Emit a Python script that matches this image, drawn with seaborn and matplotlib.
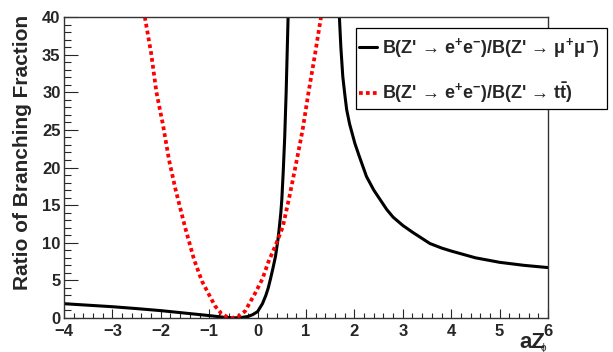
import pandas as pd
import matplotlib
matplotlib.use('Agg')
import matplotlib.pyplot as plt
import seaborn as sns
from matplotlib import font_manager
from matplotlib.patches import Rectangle
from matplotlib.ticker import MultipleLocator

# Values
# B(Z'->ee)/B(Z'->mumu): two branches around the pole
black_left_x = [-4.0, -3.5, -3.0, -2.5, -2.0, -1.5, -1.0, -0.7, -0.5, -0.35,
                -0.2, -0.1, 0.0, 0.1, 0.17, 0.22, 0.27, 0.32, 0.37, 0.42,
                0.45, 0.48, 0.50, 0.53, 0.56, 0.59, 0.61, 0.63]
black_left_y = [1.90, 1.70, 1.50, 1.25, 0.98, 0.65, 0.32, 0.10, 0.02, 0.05,
                0.20, 0.45, 0.85, 1.90, 3.00, 4.00, 5.30, 6.70, 8.20, 10.4,
                12.1, 14.0, 15.7, 19.5, 24.0, 30.0, 35.0, 40.0]
black_right_x = [1.69, 1.72, 1.76, 1.80, 1.84, 1.90, 2.01, 2.10, 2.25, 2.40,
                 2.67, 2.80, 3.0, 3.2, 3.56, 3.8, 4.0, 4.5, 5.0, 5.5, 6.0]
black_right_y = [40.0, 36.0, 32.1, 29.8, 27.7, 25.8, 23.2, 21.5, 18.8, 17.0,
                 14.4, 13.4, 12.3, 11.4, 9.9, 9.3, 8.9, 8.0, 7.4, 7.0, 6.7]

# B(Z'->ee)/B(Z'->tt)
red_x = [-2.33, -2.20, -2.09, -1.95, -1.83, -1.70, -1.50, -1.31, -1.15, -1.02,
         -0.88, -0.75, -0.62, -0.53, -0.40, -0.26, -0.05, 0.10, 0.22, 0.38,
         0.52, 0.66, 0.81, 0.93, 1.05, 1.18, 1.31]
red_y = [40.0, 35.2, 30.0, 25.5, 21.0, 17.2, 12.1, 7.7, 4.9, 3.3,
         1.6, 0.6, 0.1, 0.0, 0.2, 0.9, 3.3, 5.2, 7.4, 9.8,
         12.1, 16.2, 21.0, 25.0, 29.9, 34.8, 40.0]

label_mumu = "B(Z' \u2192 e$^{+}$e$^{-}$)/B(Z' \u2192 $\\mu^{+}\\mu^{-}$)"
label_tt = "B(Z' \u2192 e$^{+}$e$^{-}$)/B(Z' \u2192 t$\\bar{\\mathrm{t}}$)"

sns.set_style('white')

# pick a Helvetica-like family that really has a bold face installed
bold_family = 'DejaVu Sans'
for fam in ['Liberation Sans', 'Noto Sans', 'Roboto', 'Open Sans', 'Lato', 'Inter']:
    weights = [f.weight for f in font_manager.fontManager.ttflist if f.name == fam]
    if any((isinstance(w, int) and w >= 700) or w == 'bold' for w in weights):
        bold_family = fam
        break

plt.rcParams['font.family'] = [bold_family, 'DejaVu Sans']
plt.rcParams['font.weight'] = 'bold'
plt.rcParams['mathtext.fontset'] = 'custom'
for key in ['rm', 'bf', 'it', 'sf']:
    plt.rcParams['mathtext.' + key] = bold_family + ':bold'

fig = plt.figure(figsize=(6.13, 3.52), dpi=100)
ax = fig.add_axes([64 / 613, 1 - 318 / 352, (548 - 64) / 613, (318 - 17) / 352])

df_bl = pd.DataFrame({'x': black_left_x, 'y': black_left_y})
df_br = pd.DataFrame({'x': black_right_x, 'y': black_right_y})
df_red = pd.DataFrame({'x': red_x, 'y': red_y})

sns.lineplot(data=df_bl, x='x', y='y', ax=ax, color='black', lw=2.2, label=label_mumu)
sns.lineplot(data=df_br, x='x', y='y', ax=ax, color='black', lw=2.2)
sns.lineplot(data=df_red, x='x', y='y', ax=ax, color='#ff0000', lw=2.7,
             linestyle=(0, (1, 0.85)), label=label_tt)
for ln in ax.get_lines():
    ln.set_solid_joinstyle('round')

ax.set_xlim(-4, 6)
ax.set_ylim(0, 40)
ax.set_xlabel('')
ax.set_ylabel('')

ax.xaxis.set_major_locator(MultipleLocator(1))
ax.xaxis.set_minor_locator(MultipleLocator(0.2))
ax.yaxis.set_major_locator(MultipleLocator(5))
ax.yaxis.set_minor_locator(MultipleLocator(1))
ax.tick_params(axis='x', which='major', direction='in', length=6.5, width=0.8,
               labelsize=12, pad=4, bottom=True)
ax.tick_params(axis='x', which='minor', direction='in', length=3.3, width=0.8, bottom=True)
ax.tick_params(axis='y', which='major', direction='in', length=10, width=0.8,
               labelsize=12, pad=2.5, left=True)
ax.tick_params(axis='y', which='minor', direction='in', length=5, width=0.8, left=True)
for sp in ax.spines.values():
    sp.set_color('#333333')
    sp.set_linewidth(1.0)

fig.text(23 / 613, 1 - 15 / 352, 'Ratio of Branching Fraction', rotation=90,
         ha='center', va='top', fontsize=15, fontweight='bold')
fig.text(545 / 613, 1 - 348 / 352, 'aZ', ha='right', va='baseline',
         fontsize=16, fontweight='bold')
fig.text(543 / 613, 1 - 343 / 352, '\u03d5', ha='center', va='top',
         fontsize=7, fontweight='normal')

# legend box drawn as a figure patch so it covers the frame like the reference
handles, labels = ax.get_legend_handles_labels()
if ax.get_legend() is not None:
    ax.get_legend().remove()
fig.add_artist(Rectangle((356 / 613, 1 - 109 / 352), 251 / 613, 81 / 352,
                         transform=fig.transFigure, facecolor='white',
                         edgecolor='black', lw=0.9, zorder=4))
fig.legend(handles, labels, loc='upper left', bbox_to_anchor=(359 / 613, 1 - 36 / 352),
           bbox_transform=fig.transFigure, frameon=False, fontsize=13,
           handlelength=1.0, handletextpad=0.28, labelspacing=1.1,
           borderpad=0, borderaxespad=0)

fig.savefig('out.png', dpi=100)
